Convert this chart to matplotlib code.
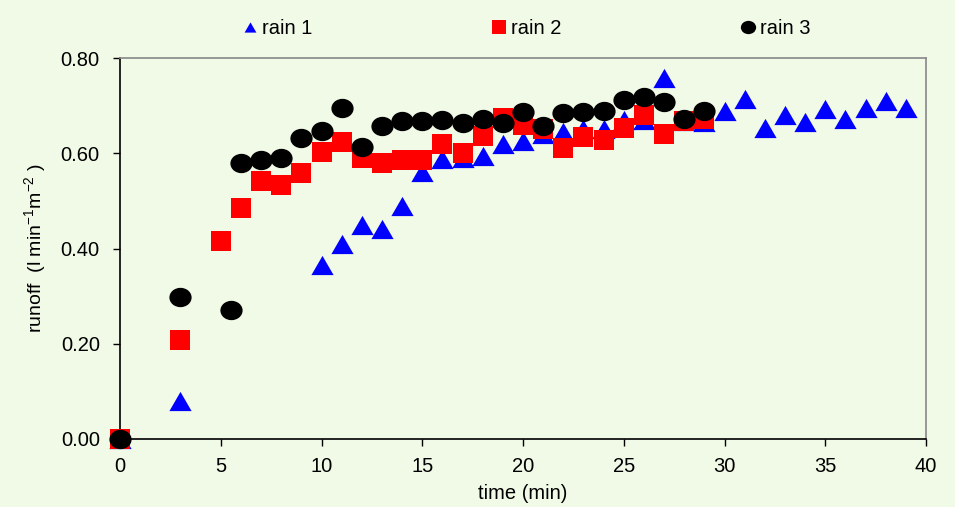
import matplotlib
matplotlib.use("Agg")
import matplotlib.pyplot as plt
import numpy as np
from matplotlib.path import Path
from matplotlib.lines import Line2D

plt.rcParams['font.family'] = ['Liberation Sans', 'DejaVu Sans']
plt.rcParams['mathtext.fontset'] = 'custom'
plt.rcParams['mathtext.rm'] = 'Liberation Sans'
plt.rcParams['mathtext.it'] = 'Liberation Sans'
plt.rcParams['mathtext.default'] = 'regular'

# ---- data ----
t1 = [0, 3, 10, 11, 12, 13, 14, 15, 16, 17, 18, 19, 20, 21, 22, 23, 24, 25, 26, 27,
      28, 29, 30, 31, 32, 33, 34, 35, 36, 37, 38, 39]
rain1 = [0.0, 0.08, 0.366, 0.41, 0.45, 0.44, 0.49, 0.56, 0.587, 0.59, 0.594, 0.62, 0.625, 0.64,
         0.645, 0.65, 0.65, 0.67, 0.67, 0.758, 0.667, 0.665, 0.688, 0.714, 0.653, 0.68, 0.665,
         0.693, 0.672, 0.695, 0.71, 0.695]
t2 = [0, 3, 5, 6, 7, 8, 9, 10, 11, 12, 13, 14, 15, 16, 17, 18, 19, 20, 21, 22, 23, 24, 25,
      26, 27, 28, 29]
rain2 = [0.0, 0.208, 0.415, 0.486, 0.541, 0.533, 0.558, 0.602, 0.623, 0.59, 0.58, 0.585, 0.585,
         0.62, 0.60, 0.636, 0.674, 0.66, 0.65, 0.61, 0.635, 0.627, 0.653, 0.68, 0.64, 0.667, 0.672]
t3 = [0, 3, 5.5, 6, 7, 8, 9, 10, 11, 12, 13, 14, 15, 16, 17, 18, 19, 20, 21, 22, 23, 24, 25,
      26, 27, 28, 29]
rain3 = [0.0, 0.299, 0.27, 0.579, 0.585, 0.59, 0.632, 0.646, 0.694, 0.614, 0.657, 0.667, 0.667,
         0.669, 0.663, 0.672, 0.663, 0.686, 0.657, 0.684, 0.686, 0.689, 0.712, 0.718, 0.707,
         0.672, 0.689]
labels = ["rain 1", "rain 2", "rain 3"]
xticks = [0, 5, 10, 15, 20, 25, 30, 35, 40]
yticks = [0.0, 0.2, 0.4, 0.6, 0.8]

FS = 14.5
bg = "#F1F9E7"
fig = plt.figure(figsize=(9.55, 5.07), dpi=100, facecolor=bg)
ax = fig.add_axes([120/955, 1-439/507, (926-120)/955, (439-58)/507])
ax.set_facecolor(bg)

tri = Path([(0, 0.864), (-1, -0.864), (1, -0.864), (0, 0.864)],
           [Path.MOVETO, Path.LINETO, Path.LINETO, Path.CLOSEPOLY])
circ = Path.unit_circle()
ell = Path(circ.vertices * np.array([1.0, 0.87]), circ.codes)

ax.plot(t1, rain1, linestyle='none', marker=tri, markersize=16, color='#0000FF',
        markeredgewidth=0, clip_on=False, zorder=3)
ax.plot(t2, rain2, linestyle='none', marker='s', markersize=15, color='#FF0000',
        markeredgewidth=0, clip_on=False, zorder=4)
ax.plot(t3, rain3, linestyle='none', marker=ell, markersize=16, color='#000000',
        markeredgewidth=0, clip_on=False, zorder=5)

ax.set_xlim(0, 40)
ax.set_ylim(0, 0.8)
ax.set_xticks(xticks)
ax.set_xticklabels([str(v) for v in xticks])
ax.set_yticks(yticks)
ax.set_yticklabels([f"{v:.2f}" for v in yticks])
ax.tick_params(axis='both', direction='out', length=5, width=1, labelsize=FS, colors='black')
ax.tick_params(axis='x', pad=8)
ax.tick_params(axis='y', pad=9.5)
for s in ['left', 'bottom']:
    ax.spines[s].set_color('black')
    ax.spines[s].set_linewidth(1.2)
for s in ['top', 'right']:
    ax.spines[s].set_color('#888888')
    ax.spines[s].set_linewidth(1.2)

ax.set_xlabel("time (min)", fontsize=FS, labelpad=6)
ax.set_ylabel("runoff  (l min$^{-1}$m$^{-2}$ )", fontsize=14, labelpad=9)

handles = [
    Line2D([], [], linestyle='none', marker=tri, markersize=8.5, color='#0000FF', markeredgewidth=0),
    Line2D([], [], linestyle='none', marker='s', markersize=10, color='#FF0000', markeredgewidth=0),
    Line2D([], [], linestyle='none', marker=ell, markersize=11, color='#000000', markeredgewidth=0),
]
fig.legend(handles, labels, ncol=3, loc='center', bbox_to_anchor=(0.552, 0.944),
           frameon=False, fontsize=FS, handlelength=0.6, handletextpad=0.3,
           columnspacing=8.95, borderpad=0, borderaxespad=0)

fig.savefig("out.png", dpi=100, facecolor=bg)
